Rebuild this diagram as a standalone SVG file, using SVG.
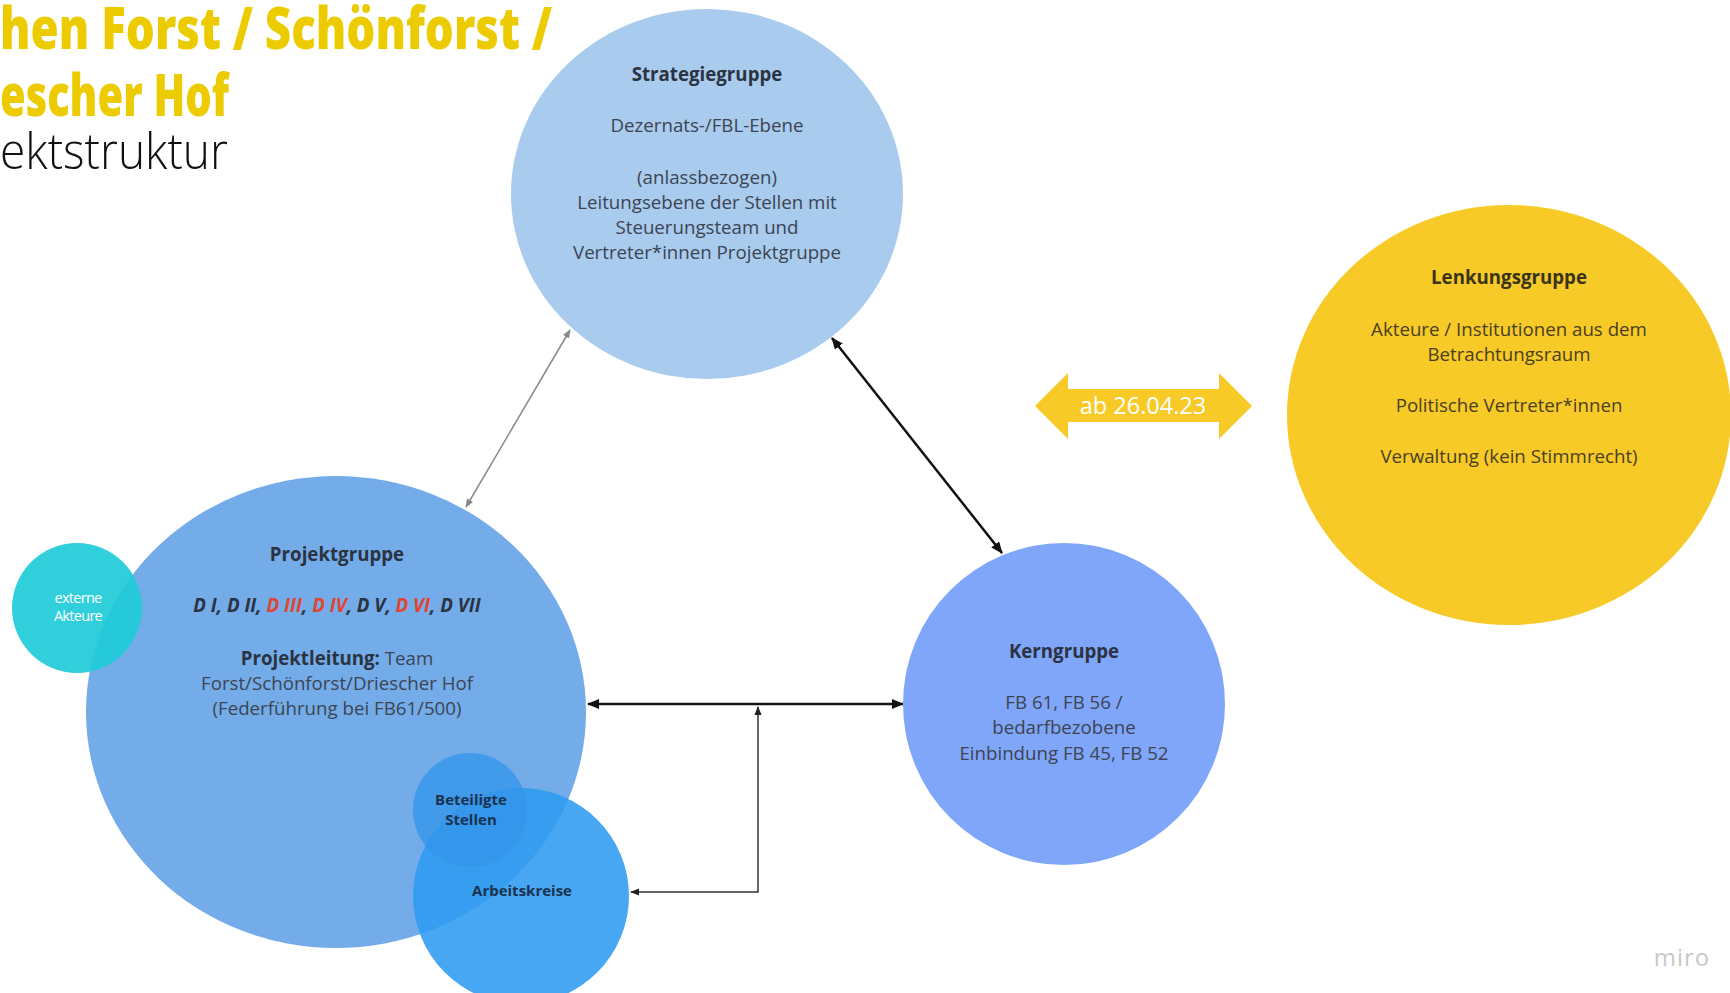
<svg xmlns="http://www.w3.org/2000/svg" width="1730" height="993" viewBox="0 0 1730 993">
<defs>
<style>
text{font-family:"Open Sans","Noto Sans","DejaVu Sans",sans-serif;}
.t{font-size:18.7px;fill:#3d4452;text-anchor:middle;}
.h{font-size:18.7px;font-weight:700;fill:#2b3340;text-anchor:middle;}
.ty{font-family:"Open Sans","DejaVu Sans",sans-serif;font-weight:800;font-size:58px;fill:#ECCB00;}
.tk{font-family:"Open Sans","DejaVu Sans",sans-serif;font-weight:300;font-size:50px;fill:#111;}
.lk{fill:#4a4020;}
.lkh{fill:#3a3318;}
.small{font-size:15px;font-weight:700;fill:#1b3150;text-anchor:middle;}
</style>
<marker id="ab" viewBox="0 0 12 10" refX="11" refY="5" markerWidth="12" markerHeight="10" markerUnits="userSpaceOnUse" orient="auto-start-reverse">
<path d="M0,0 L12,5 L0,10 Z" fill="#111"/>
</marker>
<marker id="ag" viewBox="0 0 10 8" refX="9" refY="4" markerWidth="9" markerHeight="7" markerUnits="userSpaceOnUse" orient="auto-start-reverse">
<path d="M0,0 L10,4 L0,8 Z" fill="#888"/>
</marker>
<marker id="as" viewBox="0 0 10 8" refX="9" refY="4" markerWidth="9" markerHeight="8" markerUnits="userSpaceOnUse" orient="auto-start-reverse">
<path d="M0,0 L10,4 L0,8 Z" fill="#222"/>
</marker>
</defs>
<rect width="1730" height="993" fill="#fff"/>

<g id="title">
<text class="ty" x="0" y="49" textLength="552" lengthAdjust="spacingAndGlyphs">hen Forst / Schönforst /</text>
<text class="ty" x="0" y="116" textLength="229" lengthAdjust="spacingAndGlyphs">escher Hof</text>
<text class="tk" x="0" y="169" textLength="228" lengthAdjust="spacingAndGlyphs">ektstruktur</text>
</g>

<g id="connectors">
<line x1="466" y1="507" x2="570" y2="330" stroke="#888" stroke-width="1.5" marker-start="url(#ag)" marker-end="url(#ag)"/>
<line x1="832" y1="338" x2="1002" y2="553" stroke="#111" stroke-width="2.5" marker-start="url(#ab)" marker-end="url(#ab)"/>
<line x1="588" y1="704" x2="903" y2="704" stroke="#111" stroke-width="2.5" marker-start="url(#ab)" marker-end="url(#ab)"/>
<polyline points="631,892 758,892 758,707" fill="none" stroke="#333" stroke-width="1.5" marker-start="url(#as)" marker-end="url(#as)"/>
</g>

<g id="strategiegruppe">
<ellipse cx="707" cy="194" rx="196" ry="185" fill="#A8CBEE"/>
<text class="h" x="707" y="81">Strategiegruppe</text>
<text class="t" x="707" y="132">Dezernats-/FBL-Ebene</text>
<text class="t" x="707" y="184">(anlassbezogen)</text>
<text class="t" x="707" y="209">Leitungsebene der Stellen mit</text>
<text class="t" x="707" y="234">Steuerungsteam und</text>
<text class="t" x="707" y="259">Vertreter*innen Projektgruppe</text>
</g>

<g id="lenkungsgruppe">
<ellipse cx="1509" cy="415" rx="222" ry="210" fill="#F7CA28"/>
<text class="h lkh" x="1509" y="284">Lenkungsgruppe</text>
<text class="t lk" x="1509" y="336">Akteure / Institutionen aus dem</text>
<text class="t lk" x="1509" y="361">Betrachtungsraum</text>
<text class="t lk" x="1509" y="412">Politische Vertreter*innen</text>
<text class="t lk" x="1509" y="463">Verwaltung (kein Stimmrecht)</text>
</g>

<g id="ab-datum">
<path d="M1035,406 L1068,373 L1068,389 L1219,389 L1219,373 L1252,406 L1219,439 L1219,422 L1068,422 L1068,439 Z" fill="#F7CA28"/>
<text x="1143" y="414" font-size="23.5" fill="#fff" text-anchor="middle">ab 26.04.23</text>
</g>

<g id="kerngruppe">
<circle cx="1064" cy="704" r="161" fill="#80A6FA"/>
<text class="h" x="1064" y="658">Kerngruppe</text>
<text class="t" x="1064" y="709">FB 61, FB 56 /</text>
<text class="t" x="1064" y="734">bedarfbezobene</text>
<text class="t" x="1064" y="760">Einbindung FB 45, FB 52</text>
</g>

<g id="projektgruppe">
<ellipse cx="336" cy="712" rx="250" ry="236" fill="#73ACE9"/>
<text class="h" x="337" y="561">Projektgruppe</text>
<text class="h" x="337" y="612" font-style="italic">D I, D II, <tspan fill="#E0452F">D III</tspan>, <tspan fill="#E0452F">D IV</tspan>, D V, <tspan fill="#E0452F">D VI</tspan>, D VII</text>
<text class="t" x="337" y="665"><tspan font-weight="700" fill="#2b3340">Projektleitung:</tspan> Team</text>
<text class="t" x="337" y="690">Forst/Schönforst/Driescher Hof</text>
<text class="t" x="337" y="715">(Federführung bei FB61/500)</text>
</g>

<g id="externe-akteure">
<circle cx="77" cy="608" r="65" fill="#1FCBD8" fill-opacity="0.92"/>
<text x="78" y="603" font-size="14.5" fill="#fff" text-anchor="middle" letter-spacing="-0.7">externe</text>
<text x="78" y="621" font-size="14.5" fill="#fff" text-anchor="middle" letter-spacing="-0.7">Akteure</text>
</g>

<g id="arbeitskreise">
<circle cx="521" cy="896" r="108" fill="#2E9BF0" fill-opacity="0.88"/>
<text class="small" x="522" y="896">Arbeitskreise</text>
</g>

<g id="beteiligte-stellen">
<circle cx="470" cy="810" r="57" fill="#3496EA" fill-opacity="0.8"/>
<text class="small" x="471" y="805">Beteiligte</text>
<text class="small" x="471" y="825">Stellen</text>
</g>

<g id="miro">
<text x="1682" y="966" font-size="24" fill="#c8c8c8" text-anchor="middle" letter-spacing="1">miro</text>
</g>
</svg>
